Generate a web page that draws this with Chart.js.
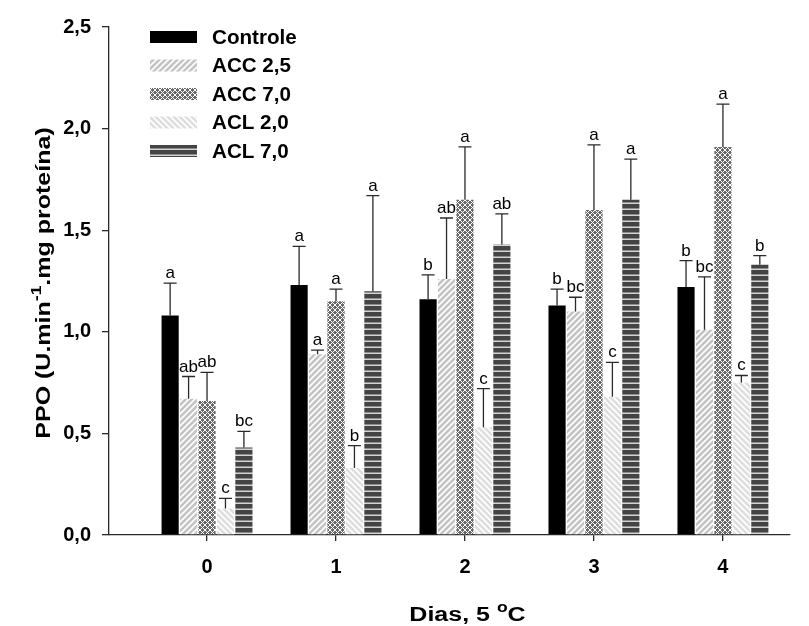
<!DOCTYPE html>
<html>
<head>
<meta charset="utf-8">
<script src="https://cdn.jsdelivr.net/npm/chart.js@4.4.0/dist/chart.umd.min.js"></script>
<style>
html, body { margin: 0; padding: 0; background: #fff; }
canvas { display: block; }
</style>
</head>
<body>
<canvas id="grafico" width="809" height="626"></canvas>
<script>
// dados (PPO por dia a 5 oC)
var dias = ['0', '1', '2', '3', '4'];
var series = ['Controle', 'ACC 2,5', 'ACC 7,0', 'ACL 2,0', 'ACL 7,0'];

var controle = [1.08, 1.23, 1.16, 1.13, 1.22];
var acc25    = [0.67, 0.89, 1.26, 1.10, 1.01];
var acc70    = [0.66, 1.15, 1.65, 1.60, 1.91];
var acl20    = [0.13, 0.33, 0.53, 0.68, 0.75];
var acl70    = [0.43, 1.20, 1.43, 1.65, 1.33];

// desvio (so para cima)
var errControle = [0.16, 0.19, 0.12, 0.08, 0.13];
var errAcc25    = [0.11, 0.02, 0.30, 0.07, 0.26];
var errAcc70    = [0.14, 0.06, 0.26, 0.32, 0.21];
var errAcl20    = [0.05, 0.11, 0.19, 0.17, 0.035];
var errAcl70    = [0.08, 0.47, 0.15, 0.20, 0.045];

// letras do teste de medias
var letControle = ['a', 'a', 'b', 'b', 'b'];
var letAcc25    = ['ab', 'a', 'ab', 'bc', 'bc'];
var letAcc70    = ['ab', 'a', 'a', 'a', 'a'];
var letAcl20    = ['c', 'b', 'c', 'c', 'c'];
var letAcl70    = ['bc', 'a', 'ab', 'a', 'b'];

var yTicks = [0, 0.5, 1.0, 1.5, 2.0, 2.5];

var valores = [controle, acc25, acc70, acl20, acl70];
var erros = [errControle, errAcc25, errAcc70, errAcl20, errAcl70];
var letras = [letControle, letAcc25, letAcc70, letAcl20, letAcl70];

var FONTE = "'Liberation Sans', Arial, sans-serif";

// Gera as texturas das barras.
function textura(tipo) {
    var c = document.createElement('canvas');
    var g = c.getContext('2d');
    var s = 6;
    c.width = s; c.height = s;
    if (tipo == 'barra') {
        g.fillStyle = '#c4c4c4';
        g.fillRect(0, 0, s, s);
        g.strokeStyle = '#ffffff';
        g.lineWidth = 1.6;
        g.beginPath();
        g.moveTo(-1, s + 1); g.lineTo(s + 1, -1);
        g.moveTo(-1, 1); g.lineTo(1, -1);
        g.moveTo(s - 1, s + 1); g.lineTo(s + 1, s - 1);
        g.stroke();
    } else if (tipo == 'contra') {
        g.fillStyle = '#dedede';
        g.fillRect(0, 0, s, s);
        g.strokeStyle = '#ffffff';
        g.lineWidth = 1.6;
        g.beginPath();
        g.moveTo(-1, -1); g.lineTo(s + 1, s + 1);
        g.moveTo(s - 1, -1); g.lineTo(s + 1, 1);
        g.moveTo(-1, s - 1); g.lineTo(1, s + 1);
        g.stroke();
    } else if (tipo == 'xadrez') {
        s = 5; c.width = s; c.height = s;
        g.fillStyle = '#686868';
        g.fillRect(0, 0, s, s);
        g.strokeStyle = '#ffffff';
        g.lineWidth = 1;
        g.beginPath();
        g.moveTo(0, 0); g.lineTo(s, s);
        g.moveTo(s, 0); g.lineTo(0, s);
        g.stroke();
    } else if (tipo == 'linhas') {
        s = 6; c.width = s; c.height = s;
        g.fillStyle = '#444444';
        g.fillRect(0, 0, s, s);
        g.fillStyle = '#d4d4d4';
        g.fillRect(0, 4.5, s, 1.5);
    }
    return g.createPattern(c, 'repeat');
}

var cores = ['#000000', textura('barra'), textura('xadrez'), textura('contra'), textura('linhas')];

var datasets = series.map(function(nome, d) {
    return {
        label: nome,
        data: valores[d].map(function(v, i) { return { x: i, y: v }; }),
        backgroundColor: cores[d],
        borderWidth: 0,
        categoryPercentage: 0.715,
        barPercentage: 0.93
    };
});

// Barras de erro e letras acima de cada barra.
var errosPlugin = {
    id: 'erros',
    afterDatasetsDraw: function(chart) {
        var ctx = chart.ctx;
        var ys = chart.scales.y;
        ctx.save();
        ctx.strokeStyle = '#2a2a2a';
        ctx.lineWidth = 1.3;
        ctx.fillStyle = '#000';
        ctx.font = '17px ' + FONTE;
        ctx.textAlign = 'center';
        ctx.textBaseline = 'alphabetic';
        for (var d = 0; d < valores.length; d++) {
            var meta = chart.getDatasetMeta(d);
            meta.data.forEach(function(bar, i) {
                var topo = ys.getPixelForValue(valores[d][i] + erros[d][i]);
                ctx.beginPath();
                ctx.moveTo(bar.x, bar.y);
                ctx.lineTo(bar.x, topo);
                ctx.moveTo(bar.x - 6.5, topo);
                ctx.lineTo(bar.x + 6.5, topo);
                ctx.stroke();
                ctx.fillText(letras[d][i], bar.x, topo - 5);
            });
        }
        ctx.restore();
    }
};

// Texto com expoente (partes: [texto, sobrescrito?])
function larguraPartes(ctx, partes) {
    var w = 0;
    partes.forEach(function(p) {
        ctx.font = p[1] ? 'bold 14px ' + FONTE : 'bold 20px ' + FONTE;
        w += ctx.measureText(p[0]).width;
    });
    return w;
}
function desenhaPartes(ctx, partes, x, y) {
    partes.forEach(function(p) {
        ctx.font = p[1] ? 'bold 14px ' + FONTE : 'bold 20px ' + FONTE;
        ctx.fillText(p[0], x, p[1] ? y - 9 : y);
        x += ctx.measureText(p[0]).width;
    });
}

var extrasPlugin = {
    id: 'extras',
    afterDraw: function(chart) {
        var ctx = chart.ctx;
        var area = chart.chartArea;
        ctx.save();
        ctx.fillStyle = '#000';
        ctx.textBaseline = 'middle';
        ctx.textAlign = 'left';

        // legenda
        for (var d = 0; d < series.length; d++) {
            var yTopo = 31 + d * 28.5;
            ctx.fillStyle = cores[d];
            ctx.fillRect(150, yTopo, 47, 12);
            ctx.fillStyle = '#000';
            ctx.font = 'bold 20px ' + FONTE;
            ctx.save();
            ctx.translate(212, yTopo + 7);
            ctx.scale(1.03, 1);
            ctx.fillText(series[d], 0, 0);
            ctx.restore();
        }

        // titulo eixo x
        var px = [['Dias, 5 ', false], ['o', true], ['C', false]];
        ctx.textBaseline = 'alphabetic';
        var w = larguraPartes(ctx, px);
        ctx.save();
        ctx.translate((area.left + area.right) / 2 + 18, 621);
        ctx.scale(1.25, 1);
        desenhaPartes(ctx, px, -w / 2, 0);
        ctx.restore();

        // titulo eixo y
        var py = [['PPO (U.min', false], ['-1', true], ['.mg prote\u00edna)', false]];
        ctx.translate(50, (area.top + area.bottom) / 2 + 2);
        ctx.rotate(-Math.PI / 2);
        ctx.scale(1.25, 1);
        w = larguraPartes(ctx, py);
        desenhaPartes(ctx, py, -w / 2, 0);
        ctx.restore();
    }
};

var ctx = document.getElementById('grafico').getContext('2d');
new Chart(ctx, {
    type: 'bar',
    data: { datasets: datasets },
    options: {
        responsive: false,
        animation: false,
        devicePixelRatio: 1,
        layout: { padding: { top: 27, right: 19, left: 0, bottom: 0 } },
        plugins: {
            legend: { display: false },
            tooltip: { enabled: false }
        },
        scales: {
            x: {
                type: 'linear',
                min: -0.76,
                max: 4.52,
                offset: false,
                afterBuildTicks: function(s) {
                    s.ticks = dias.map(function(d, i) { return { value: i }; });
                },
                afterFit: function(s) { s.height = 91; },
                ticks: {
                    color: '#000',
                    padding: 14,
                    font: { family: FONTE, size: 20, weight: 'bold' },
                    callback: function(v) { return dias[v]; }
                },
                grid: { offset: false, drawOnChartArea: false, drawTicks: true, tickLength: 6, color: '#2a2a2a', lineWidth: 1.3 },
                border: { display: true, color: '#2a2a2a', width: 1.3 }
            },
            y: {
                min: 0,
                max: 2.5,
                afterBuildTicks: function(s) {
                    s.ticks = yTicks.map(function(v) { return { value: v }; });
                },
                afterFit: function(s) { s.width = 109; },
                ticks: {
                    color: '#000',
                    padding: 11,
                    font: { family: FONTE, size: 20, weight: 'bold' },
                    callback: function(v) { return v.toFixed(1).replace('.', ','); }
                },
                grid: { drawOnChartArea: false, drawTicks: true, tickLength: 7, color: '#2a2a2a', lineWidth: 1.3 },
                border: { display: true, color: '#2a2a2a', width: 1.3 }
            }
        }
    },
    plugins: [errosPlugin, extrasPlugin]
});
</script>
</body>
</html>
